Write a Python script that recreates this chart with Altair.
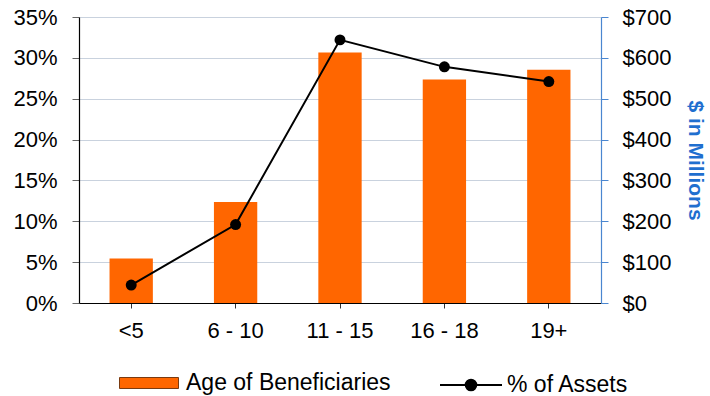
import altair as alt
import pandas as pd

categories = ["<5", "6 - 10", "11 - 15", "16 - 18", "19+"]
assets_musd = [109, 247, 613, 547, 571]          # bars, $ in Millions (right axis)
pct_assets = [0.022, 0.096, 0.322, 0.289, 0.271]  # line, % of Assets (left axis)
bar_series = ["Age of Beneficiaries"] * 5
line_series = ["% of Assets"] * 5

df = pd.DataFrame({
    "cat": categories,
    "usd": assets_musd,
    "pct": pct_assets,
    "s_bar": bar_series,
    "s_line": line_series,
})

FONT = "Liberation Sans"
ORANGE = "#FF6600"
BLUE = "#1F6FCF"

x = alt.X("cat:N", sort=categories, title=None,
          scale=alt.Scale(paddingInner=0.585, paddingOuter=0.2925),
          axis=alt.Axis(labelAngle=0, labelFont=FONT, labelFontSize=22, labelColor="#000",
                        labelPadding=12, tickSize=5, tickColor="#333", domainColor="#000",
                        domainWidth=1.2, grid=False))

rect_path = "M-1,-0.186H1V0.186H-1Z"
line_path = "M-1,0H1M0.17,0A0.17,0.17,0,1,1,-0.17,0A0.17,0.17,0,1,1,0.17,0Z"

bars = alt.Chart(df).mark_bar(color=ORANGE).encode(
    x=x,
    y=alt.Y("usd:Q", title="$ in Millions",
            scale=alt.Scale(domain=[0, 700], nice=False),
            axis=alt.Axis(orient="right", values=[0, 100, 200, 300, 400, 500, 600, 700],
                          labelExpr="'$' + datum.value", labelFont=FONT, labelFontSize=22,
                          labelColor="#000", labelPadding=14, tickSize=7, tickColor="#4a86d0",
                          domainColor="#4a86d0", domainWidth=1.2, grid=False,
                          titleFont=FONT, titleFontSize=21, titleFontWeight="bold",
                          titleColor=BLUE, titlePadding=14, titleAngle=90)),
    fill=alt.Fill("s_bar:N", scale=alt.Scale(range=[ORANGE]),
                  legend=alt.Legend(title=None, orient="none", legendX=40, legendY=336,
                                    symbolType=rect_path, symbolSize=3481,
                                    symbolStrokeColor="#7a3a10", symbolStrokeWidth=1,
                                    labelFont=FONT, labelFontSize=23, labelColor="#000",
                                    labelOffset=7, labelLimit=400, padding=0)),
)

line_base = alt.Chart(df).encode(
    x=x,
    y=alt.Y("pct:Q", title=None,
            scale=alt.Scale(domain=[0, 0.35], nice=False),
            axis=alt.Axis(orient="left", values=[0, 0.05, 0.1, 0.15, 0.2, 0.25, 0.3, 0.35],
                          format=".0%", labelFont=FONT, labelFontSize=22, labelColor="#000",
                          labelPadding=15, tickSize=7, tickColor="#666", domainColor="#000",
                          domainWidth=1.2, grid=True, gridColor="#c9d2de", gridWidth=1)),
)
line = line_base.mark_line(strokeWidth=2).encode(
    stroke=alt.Stroke("s_line:N", scale=alt.Scale(range=["#000"]),
                      legend=alt.Legend(title=None, orient="none", legendX=360, legendY=336,
                                        symbolType=line_path, symbolSize=3844,
                                        symbolFillColor="#000", symbolStrokeColor="#000",
                                        symbolStrokeWidth=2,
                                        labelFont=FONT, labelFontSize=23, labelColor="#000",
                                        labelOffset=4, labelLimit=400, padding=0)),
)
points = line_base.mark_point(filled=True, size=120, opacity=1, color="#000")

chart = alt.layer(bars, alt.layer(line, points)).resolve_scale(
    y="independent", fill="independent", stroke="independent"
).properties(
    width=522, height=286,
    autosize=alt.AutoSizeParams(type="none"),
    padding={"left": 79, "top": 17, "right": 109, "bottom": 93},
).configure_view(stroke=None).configure(background="white")

chart.save("out.html", embed_options={"renderer": "svg", "actions": False})
